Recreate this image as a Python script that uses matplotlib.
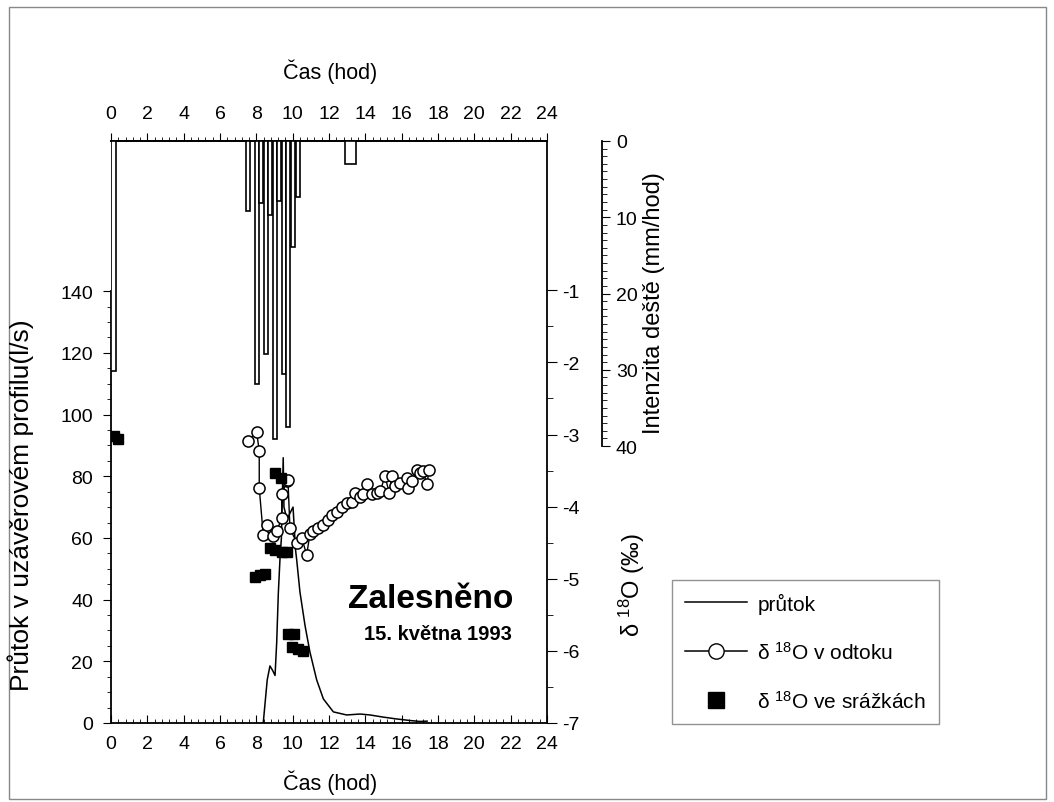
import matplotlib.pyplot as plt
from matplotlib.lines import Line2D
from matplotlib.patches import Rectangle
from matplotlib.ticker import MultipleLocator, FixedLocator

plt.rcParams['font.family'] = ['Liberation Sans', 'DejaVu Sans']
plt.rcParams['axes.unicode_minus'] = False
plt.rcParams['mathtext.default'] = 'regular'

# srazky (mm/hod), levy okraj intervalu a delka intervalu v hodinach
rain_start = [0.0, 7.43, 7.93, 8.17, 8.42, 8.66, 8.90, 9.15, 9.40, 9.64, 9.91, 10.18, 12.88]
rain_width = [0.30, 0.24, 0.22, 0.22, 0.22, 0.22, 0.22, 0.22, 0.22, 0.22, 0.22, 0.22, 0.60]
rain_int = [30.2, 9.2, 31.9, 8.1, 27.9, 9.7, 39.1, 7.9, 30.6, 37.5, 13.9, 7.3, 3.0]

# prutok v uzaverovem profilu (l/s)
flow_t = [8.31, 8.38, 8.60, 8.75, 8.90, 9.03, 9.12, 9.21, 9.30, 9.38, 9.48, 9.52,
          9.69, 9.85, 10.02, 10.16, 10.22, 10.40, 10.68, 10.95, 11.32, 11.69,
          12.24, 12.97, 13.71, 14.26, 14.99, 15.73, 16.46, 17.00, 17.40]
flow_q = [0.0, 0.0, 14.0, 18.5, 17.0, 15.4, 26.0, 42.0, 53.0, 60.0, 86.0, 70.0,
          66.0, 68.0, 70.0, 56.0, 53.0, 42.5, 31.6, 23.0, 14.0, 7.8,
          3.6, 2.6, 2.9, 2.6, 1.9, 1.3, 0.8, 0.5, 0.6]

# d18O v odtoku (promile)
runoff_t = [7.56, 8.02, 8.16, 8.16, 8.38, 8.57, 8.93, 9.12, 9.40, 9.40, 9.67, 9.74,
            9.85, 10.22, 10.50, 10.77, 10.95, 11.12, 11.41, 11.69, 11.96, 12.15,
            12.42, 12.70, 12.97, 13.25, 13.43, 13.71, 13.89, 14.11, 14.35, 14.63,
            14.81, 15.08, 15.32, 15.45, 15.63, 15.91, 16.28, 16.37, 16.55, 16.83,
            17.01, 17.19, 17.38, 17.52]
runoff_d = [-3.09, -2.97, -3.23, -3.74, -4.39, -4.25, -4.41, -4.34, -4.16, -3.83, -3.65, -3.63,
            -4.30, -4.50, -4.43, -4.67, -4.38, -4.34, -4.30, -4.25, -4.18, -4.11,
            -4.07, -4.00, -3.95, -3.93, -3.81, -3.86, -3.83, -3.69, -3.83, -3.81,
            -3.79, -3.58, -3.81, -3.58, -3.72, -3.67, -3.60, -3.74, -3.65, -3.49,
            -3.53, -3.51, -3.69, -3.49]

# d18O ve srazkach (promile)
precip_t = [0.15, 0.40, 9.05, 9.35, 8.75, 9.00, 9.40, 9.70, 7.95, 8.20, 8.45,
            9.75, 10.10, 9.95, 10.30, 10.55]
precip_d = [-3.02, -3.06, -3.53, -3.60, -4.58, -4.60, -4.63, -4.63, -4.98, -4.95, -4.93,
            -5.77, -5.77, -5.95, -5.98, -6.00]

hours = list(range(0, 25, 2))

fig = plt.figure(figsize=(10.54, 8.03), dpi=100)
ax = fig.add_axes([0.1053, 0.0984, 0.4137, 0.7248])
ax_d = ax.twinx()
ax_r = ax.twinx()

# prutok
ax.plot(flow_t, flow_q, color='black', lw=1.1)
ax.set_xlim(0, 24)
ax.set_ylim(0, 188.7)
ax.set_xticks(hours)
ax.xaxis.set_minor_locator(MultipleLocator(0.4))
ax.set_yticks(range(0, 141, 20))
ax.yaxis.set_minor_locator(FixedLocator([v for v in range(0, 141, 5) if v % 20]))
ax.spines['left'].set_bounds(0, 140)
ax.spines['right'].set_visible(False)
ax.tick_params(axis='x', which='major', direction='in', length=6, pad=9, labelsize=14)
ax.tick_params(axis='x', which='minor', direction='in', length=3)
ax.tick_params(axis='y', which='major', direction='out', length=6, pad=7, labelsize=14)
ax.tick_params(axis='y', which='minor', direction='out', length=3)
for s in ax.spines.values():
    s.set_linewidth(1.3)

top = ax.secondary_xaxis('top')
top.set_xticks(hours)
top.xaxis.set_minor_locator(MultipleLocator(0.4))
top.tick_params(which='major', direction='out', length=6, pad=8, labelsize=14)
top.tick_params(which='minor', direction='out', length=3)
top.spines['top'].set_linewidth(1.3)

# izotopy
ax_d.plot(runoff_t, runoff_d, color='black', lw=1.0, marker='o', ms=8,
          mfc='white', mec='black', mew=1.1)
ax_d.plot(precip_t, precip_d, ls='none', marker='s', ms=6.5, color='black')
ax_d.set_ylim(-7, 1.07)
ax_d.set_yticks(range(-7, 0))
ax_d.yaxis.set_minor_locator(FixedLocator([-6.5, -5.5, -4.5, -3.5, -2.5, -1.5]))
for side in ['left', 'top', 'bottom']:
    ax_d.spines[side].set_visible(False)
ax_d.spines['right'].set_linewidth(1.3)
ax_d.tick_params(axis='y', which='major', direction='out', length=7, pad=4, labelsize=14)
ax_d.tick_params(axis='y', which='minor', direction='out', length=4)

# intenzita deste
ax_r.bar(rain_start, rain_int, width=rain_width, align='edge',
         facecolor='white', edgecolor='black', lw=1.2)
ax_r.set_ylim(76.3, 0)
ax_r.set_yticks(range(0, 41, 10))
ax_r.yaxis.set_minor_locator(FixedLocator([v for v in range(0, 41) if v % 10]))
for side in ['left', 'top', 'bottom']:
    ax_r.spines[side].set_visible(False)
ax_r.spines['right'].set_position(('outward', 39.6))
ax_r.spines['right'].set_bounds(0, 40)
ax_r.spines['right'].set_linewidth(1.3)
ax_r.tick_params(axis='y', which='major', direction='out', length=6, pad=4, labelsize=14)
ax_r.tick_params(axis='y', which='minor', direction='out', length=3.5)

W, H = 1054, 803
fig.text(330 / W, 1 - 72 / H, 'Čas (hod)', ha='center', va='center', fontsize=15.5)
fig.text(330 / W, 1 - 783 / H, 'Čas (hod)', ha='center', va='center', fontsize=15.5)
fig.text(21 / W, 1 - 505 / H, 'Průtok v uzávěrovém profilu(l/s)', rotation=90,
         ha='center', va='center', fontsize=19)
fig.text(654 / W, 1 - 303 / H, 'Intenzita deště (mm/hod)', rotation=90,
         ha='center', va='center', fontsize=17)
fig.text(632 / W, 1 - 585 / H, 'δ $^{18}$O (‰)', rotation=90,
         ha='center', va='center', fontsize=17)
fig.text(431 / W, 1 - 600 / H, 'Zalesněno', ha='center', va='center',
         fontsize=24, fontweight='bold')
fig.text(438 / W, 1 - 634 / H, '15. května 1993', ha='center', va='center',
         fontsize=14.5, fontweight='bold')

handles = [
    Line2D([], [], color='black', lw=1.1),
    Line2D([], [], color='black', lw=1.1, marker='o', ms=11, mfc='white', mec='black'),
    Line2D([], [], ls='none', marker='s', ms=11, color='black'),
]
labels = ['průtok', 'δ $^{18}$O v odtoku', 'δ $^{18}$O ve srážkách']
leg = fig.legend(handles, labels, loc='upper left', bbox_to_anchor=(672 / W, 1 - 581 / H),
                 fontsize=15, frameon=True, fancybox=False, edgecolor='#777777',
                 handlelength=3.0, handletextpad=0.5, labelspacing=1.3,
                 borderpad=0.6, borderaxespad=0)
leg.get_frame().set_linewidth(1.0)

fig.patches.append(Rectangle((9 / W, 3 / H), 1037 / W, 792 / H, transform=fig.transFigure,
                             fill=False, edgecolor='#888888', lw=1.0))

fig.savefig('out.png', dpi=100)
